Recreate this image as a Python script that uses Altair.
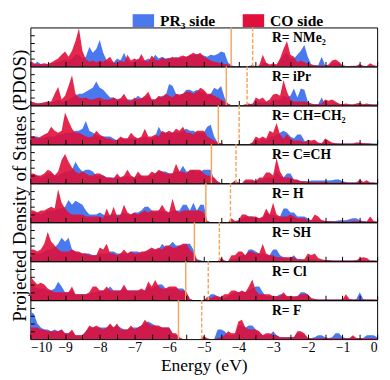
import altair as alt
import pandas as pd

energy = [round(-10 + 0.1 * i, 1) for i in range(101)]
x_ticks = [round(-10 + 0.5 * i, 1) for i in range(21)]
y_ticks = [2, 4, 6, 8]

labels = ["R= NMe₂", "R= iPr", "R= CH=CH₂", "R= C≡CH", "R= H", "R= SH", "R= Cl", "R= F"]
homo = [-4.21, -4.35, -4.58, -4.78, -4.94, -5.27, -5.52, -5.73]
lumo = [-3.59, -3.75, -3.98, -4.07, -4.23, -4.55, -4.87, -5.06]
series_names = ["PR₃ side", "CO side"]

co_nme2 = [1.5, 0.8, 0.5, 0.6, 0.8, 0.6, 1.0, 1.5, 2.0, 3.0,
           3.8, 2.5, 4.0, 6.5, 9.8, 4.0, 1.8, 1.2, 1.5, 1.0,
           1.5, 1.2, 1.8, 2.5, 1.0, 0.8, 1.5, 1.0, 3.0, 1.5,
           2.0, 1.5, 3.2, 1.5, 1.2, 2.8, 1.8, 1.5, 2.2, 1.8,
           2.0, 2.5, 2.0, 2.5, 2.8, 2.5, 3.0, 3.5, 3.0, 3.5,
           2.5, 2.0, 1.5, 1.2, 1.0, 0.8, 0.6, 0.5, 0.2, 0.0,
           0.0, 0.0, 0.0, 0.0, 0.3, 0.0, 0.3, 3.0, 1.0, 0.5,
           0.8, 0.5, 2.0, 4.5, 6.5, 3.0, 2.5, 1.0, 1.5, 1.0,
           0.8, 0.5, 0.3, 0.2, 0.3, 0.2, 0.5, 1.5, 1.8, 1.2,
           0.3, 0.1, 0.1, 0.2, 0.1, 0.6, 0.2, 0.1, 0.8, 0.3, 0.1]
pr_nme2 = [0.5, 0.5, 1.2, 0.6, 0.5, 0.5, 0.8, 1.0, 1.2, 1.5,
           1.8, 1.5, 2.0, 3.0, 3.0, 2.0, 2.5, 5.0, 3.5, 4.5,
           6.8, 3.5, 1.5, 1.2, 1.0, 2.0, 1.5, 3.5, 1.5, 1.0,
           1.2, 2.0, 1.5, 1.5, 2.0, 1.5, 3.0, 2.0, 2.5, 2.0,
           2.2, 2.0, 2.5, 2.0, 2.2, 2.5, 2.8, 3.0, 3.2, 3.0,
           2.8, 2.5, 3.0, 2.8, 3.2, 3.8, 3.5, 1.0, 0.3, 0.0,
           0.0, 0.0, 0.0, 0.0, 0.4, 0.0, 0.0, 1.0, 0.8, 0.2,
           0.5, 0.3, 1.5, 3.0, 3.5, 2.0, 2.0, 3.0, 4.0, 5.5,
           2.5, 0.5, 0.3, 0.3, 2.5, 0.3, 0.2, 0.8, 1.0, 0.8,
           0.2, 0.1, 0.1, 0.1, 0.2, 0.1, 0.1, 0.1, 0.2, 0.1, 0.1]

co_ipr = [1.0, 0.8, 0.5, 0.6, 0.8, 1.0, 1.0, 3.0, 4.7, 1.5,
          2.5, 5.0, 7.7, 3.0, 2.0, 1.8, 2.0, 1.5, 1.5, 1.8,
          2.0, 1.5, 1.5, 1.5, 2.0, 1.5, 1.8, 3.0, 1.5, 1.0,
          2.0, 1.5, 1.8, 2.5, 3.5, 1.5, 1.5, 2.5, 2.0, 3.0,
          2.5, 2.0, 3.0, 2.8, 3.0, 3.5, 3.5, 3.0, 3.5, 4.5,
          4.0, 3.0, 3.0, 2.5, 2.0, 1.5, 1.0, 0.5, 0.0, 0.0,
          0.0, 0.0, 0.3, 0.5, 0.2, 2.0, 1.5, 2.0, 1.0, 1.5,
          2.8, 3.0, 2.5, 6.5, 3.5, 1.5, 1.0, 1.0, 1.0, 1.0,
          0.8, 0.5, 0.3, 0.3, 0.5, 1.5, 1.2, 1.5, 1.0, 0.5,
          0.3, 0.5, 0.3, 0.2, 0.5, 0.7, 0.3, 0.5, 0.3, 0.2, 0.3]
pr_ipr = [0.5, 0.5, 0.5, 0.5, 0.5, 0.8, 0.8, 1.0, 1.5, 1.0,
          1.0, 1.5, 2.0, 2.5, 3.0, 3.0, 3.5, 4.0, 4.5, 6.1,
          4.5, 4.0, 3.0, 2.0, 2.0, 1.5, 1.5, 1.5, 1.5, 1.5,
          1.5, 2.5, 1.8, 2.0, 2.5, 1.5, 1.5, 2.0, 2.5, 2.5,
          5.5, 5.0, 3.0, 2.5, 3.0, 4.0, 4.0, 3.5, 4.0, 3.5,
          3.5, 2.5, 3.0, 4.5, 4.0, 5.0, 2.0, 0.3, 0.0, 0.0,
          0.0, 0.0, 0.0, 0.2, 0.5, 0.2, 1.0, 0.8, 0.8, 0.5,
          1.5, 1.5, 1.5, 2.5, 2.0, 2.5, 4.3, 2.0, 4.3, 4.0,
          1.0, 0.3, 0.3, 0.3, 2.0, 0.3, 0.3, 0.5, 0.5, 0.3,
          0.2, 0.2, 0.2, 0.2, 0.2, 0.3, 0.2, 0.2, 0.2, 0.2, 0.1]

co_vinyl = [2.0, 2.0, 1.5, 2.0, 2.5, 3.0, 4.5, 3.5, 3.0, 3.5,
            8.2, 6.0, 4.0, 3.0, 3.0, 2.5, 2.0, 1.8, 2.0, 3.5,
            2.5, 2.0, 1.5, 1.5, 1.0, 1.2, 2.0, 1.5, 1.5, 3.0,
            2.0, 1.5, 2.0, 4.0, 2.0, 2.0, 2.5, 2.0, 3.5, 3.0,
            3.5, 3.0, 4.0, 3.5, 4.5, 3.0, 3.0, 2.5, 3.5, 3.5,
            3.5, 2.0, 1.5, 1.0, 0.5, 0.3, 0.0, 0.0, 0.0, 0.0,
            0.0, 0.0, 0.0, 0.0, 0.5, 2.0, 1.5, 2.0, 1.5, 3.5,
            3.0, 5.5, 2.5, 1.5, 2.5, 1.5, 1.0, 1.0, 1.0, 0.5,
            1.2, 1.0, 1.2, 0.5, 0.3, 1.5, 1.0, 0.5, 0.3, 0.2,
            0.2, 0.2, 0.2, 0.2, 0.5, 0.5, 0.3, 0.3, 0.2, 0.1, 0.1]
pr_vinyl = [1.5, 2.0, 2.0, 1.5, 1.8, 2.0, 2.0, 2.0, 2.5, 2.5,
            3.0, 3.0, 3.0, 3.5, 3.5, 4.0, 6.0, 3.5, 3.0, 2.5,
            2.0, 2.0, 2.0, 2.0, 1.5, 1.0, 1.5, 1.5, 1.5, 1.5,
            1.5, 1.5, 1.5, 2.0, 1.5, 1.5, 2.0, 4.5, 3.0, 3.0,
            3.0, 3.0, 3.0, 3.0, 3.5, 4.0, 3.5, 3.5, 3.0, 3.0,
            3.0, 4.5, 5.0, 2.0, 0.5, 0.0, 0.0, 0.0, 0.0, 0.0,
            0.0, 0.0, 0.0, 0.0, 0.3, 1.0, 1.0, 1.5, 1.0, 2.0,
            2.0, 2.5, 3.0, 3.5, 3.0, 2.0, 1.5, 2.5, 2.5, 1.0,
            0.5, 0.5, 0.5, 0.3, 0.3, 0.5, 0.5, 0.3, 0.3, 0.2,
            0.2, 0.2, 0.2, 0.2, 0.3, 0.3, 0.3, 0.2, 0.2, 0.2, 0.2]

co_ethynyl = [2.5, 2.5, 2.0, 2.0, 2.5, 3.5, 3.0, 2.0, 3.0, 6.0,
              7.5, 5.5, 4.0, 3.0, 2.5, 3.0, 2.5, 2.0, 2.0, 2.5,
              2.5, 2.0, 1.5, 1.5, 1.2, 2.5, 1.5, 2.0, 3.5, 2.0,
              1.5, 3.0, 2.0, 2.0, 2.0, 3.0, 2.5, 3.5, 3.0, 2.5,
              2.5, 2.5, 5.0, 3.0, 3.0, 2.5, 3.5, 3.5, 3.5, 3.5,
              2.5, 2.0, 2.0, 1.5, 0.5, 0.0, 0.0, 0.0, 0.0, 0.7,
              0.2, 0.0, 1.0, 1.0, 1.0, 0.5, 1.5, 1.5, 2.8, 2.8,
              2.0, 6.5, 3.0, 1.5, 1.5, 1.5, 1.0, 1.0, 0.5, 0.5,
              0.3, 0.3, 0.3, 0.3, 0.3, 0.3, 0.2, 0.2, 0.2, 0.2,
              0.3, 0.2, 0.2, 0.2, 0.2, 1.0, 0.3, 0.8, 0.2, 0.2, 0.1]
pr_ethynyl = [2.0, 2.0, 2.0, 1.5, 2.0, 2.5, 2.5, 2.0, 2.0, 2.5,
              3.0, 3.0, 3.5, 5.5, 4.0, 3.0, 3.5, 3.5, 3.0, 2.0,
              2.0, 2.0, 1.5, 1.5, 1.5, 1.5, 1.5, 1.5, 2.0, 1.5,
              1.5, 2.0, 2.0, 1.5, 2.0, 2.0, 2.5, 3.0, 3.0, 3.0,
              2.5, 2.5, 3.0, 3.0, 4.5, 3.0, 3.0, 3.5, 3.0, 3.0,
              3.5, 3.5, 3.5, 1.0, 0.3, 0.0, 0.0, 0.0, 0.0, 0.3,
              0.0, 0.0, 0.5, 0.5, 0.5, 0.5, 1.0, 1.0, 1.5, 1.5,
              1.5, 3.0, 2.0, 1.5, 2.5, 2.5, 1.0, 0.8, 0.5, 0.5,
              0.5, 0.7, 0.7, 0.7, 0.7, 0.7, 0.7, 0.8, 1.0, 1.0,
              0.5, 0.3, 0.2, 0.2, 0.2, 0.3, 0.2, 0.2, 0.2, 0.2, 0.1]

co_h = [3.0, 3.0, 2.5, 3.0, 3.0, 3.5, 4.0, 3.5, 8.5, 5.0,
        3.5, 2.5, 2.0, 2.0, 2.0, 2.0, 1.5, 1.5, 1.5, 1.5,
        1.5, 1.0, 3.5, 1.5, 4.0, 1.5, 2.0, 4.5, 2.5, 2.0,
        2.5, 2.0, 2.5, 3.0, 2.5, 3.0, 3.0, 3.0, 4.5, 3.0,
        2.5, 6.0, 3.0, 2.5, 3.0, 3.0, 3.0, 3.0, 3.0, 3.0,
        2.5, 0.3, 0.0, 0.0, 0.0, 0.0, 0.0, 0.0, 1.0, 0.3,
        0.5, 2.0, 2.0, 1.5, 1.5, 1.5, 1.0, 1.5, 3.5, 2.0,
        5.0, 2.0, 1.5, 1.5, 1.5, 2.0, 1.5, 1.0, 1.0, 1.0,
        0.5, 0.5, 2.0, 1.5, 0.5, 0.3, 0.3, 0.2, 0.2, 0.2,
        0.2, 0.2, 0.2, 0.3, 0.3, 0.3, 0.2, 0.2, 1.5, 0.3, 0.1]
pr_h = [2.5, 2.5, 2.5, 2.0, 2.5, 3.0, 3.0, 3.0, 3.5, 3.5,
        4.0, 5.7, 4.5, 5.5, 5.0, 4.5, 3.0, 2.0, 2.0, 2.0,
        2.5, 2.0, 1.5, 2.0, 2.0, 2.0, 2.0, 2.5, 2.0, 2.0,
        2.5, 2.5, 3.0, 4.0, 4.0, 3.0, 2.5, 3.0, 3.0, 2.5,
        2.5, 3.0, 3.0, 3.0, 4.5, 4.5, 3.0, 5.0, 3.0, 4.5,
        4.5, 0.3, 0.0, 0.0, 0.0, 0.0, 0.0, 0.0, 0.3, 0.0,
        0.3, 1.0, 1.5, 1.5, 1.5, 1.0, 1.0, 1.0, 2.5, 2.0,
        2.0, 1.5, 1.5, 3.5, 3.5, 2.5, 2.5, 1.5, 1.5, 1.5,
        1.0, 0.5, 0.5, 0.5, 0.5, 0.3, 0.3, 0.3, 0.3, 0.5,
        0.5, 0.5, 0.8, 1.0, 1.0, 0.5, 0.3, 0.2, 0.3, 0.2, 0.1]

co_sh = [3.0, 3.0, 2.5, 3.0, 4.5, 7.5, 5.0, 4.0, 3.0, 2.5,
         2.5, 2.5, 3.0, 2.5, 2.5, 2.0, 2.0, 1.5, 1.5, 1.5,
         3.5, 3.0, 4.5, 2.0, 2.0, 1.5, 2.0, 3.0, 2.0, 2.5,
         2.0, 2.0, 2.5, 2.5, 3.0, 3.5, 3.0, 3.5, 3.0, 4.0,
         4.0, 3.5, 3.5, 4.0, 4.5, 4.5, 3.0, 2.0, 0.5, 0.0,
         0.0, 0.0, 0.0, 0.0, 0.0, 0.8, 0.2, 0.0, 1.5, 1.5,
         2.5, 2.5, 1.5, 2.5, 2.5, 2.0, 2.0, 4.5, 2.0, 1.5,
         1.5, 1.0, 1.0, 1.0, 1.0, 1.0, 1.0, 0.5, 0.5, 0.5,
         2.0, 1.5, 2.0, 0.8, 0.5, 0.3, 0.3, 0.2, 0.2, 0.2,
         0.2, 0.2, 0.2, 0.2, 0.2, 0.8, 1.0, 0.8, 0.2, 0.2, 0.1]
pr_sh = [2.0, 2.0, 2.0, 2.0, 2.5, 3.0, 3.0, 3.5, 4.5, 6.0,
         5.0, 6.0, 3.0, 2.5, 2.0, 2.0, 2.0, 2.0, 1.5, 1.5,
         2.0, 2.0, 2.0, 2.5, 2.5, 2.0, 2.0, 2.0, 2.0, 2.5,
         2.5, 2.5, 2.0, 2.5, 2.5, 3.0, 3.0, 3.0, 4.5, 3.5,
         4.0, 5.0, 4.0, 4.0, 4.0, 4.5, 4.5, 3.0, 0.5, 0.3,
         0.0, 0.0, 0.0, 0.0, 0.0, 0.3, 0.0, 0.0, 0.5, 0.5,
         1.0, 1.5, 1.5, 3.0, 3.0, 2.5, 2.0, 2.0, 1.5, 1.5,
         3.0, 3.0, 1.5, 1.0, 0.8, 0.8, 1.5, 0.5, 0.5, 0.3,
         0.5, 0.5, 0.5, 0.3, 0.3, 0.3, 0.3, 0.2, 0.2, 0.2,
         0.2, 0.2, 0.2, 0.2, 0.3, 0.3, 0.3, 0.2, 0.2, 0.2, 0.1]

co_cl = [6.0, 5.0, 4.0, 4.5, 4.0, 3.0, 2.5, 2.0, 2.0, 2.0,
         2.0, 2.0, 3.5, 1.5, 1.5, 1.5, 1.5, 2.0, 3.5, 3.5,
         2.5, 2.5, 3.5, 2.5, 2.5, 2.5, 2.5, 4.0, 2.5, 2.5,
         2.5, 2.5, 3.0, 2.5, 4.8, 3.5, 5.2, 3.5, 3.0, 3.0,
         3.5, 3.5, 3.5, 2.5, 2.5, 2.0, 0.3, 0.0, 0.0, 0.0,
         0.0, 0.8, 0.5, 1.0, 1.0, 0.8, 1.5, 1.5, 2.5, 2.5,
         2.0, 2.5, 2.0, 3.5, 5.3, 2.5, 1.5, 1.5, 1.5, 1.5,
         1.0, 1.0, 1.0, 2.0, 1.0, 1.0, 1.0, 1.0, 1.5, 1.5,
         1.5, 0.5, 0.3, 0.2, 0.2, 0.2, 0.2, 0.2, 0.2, 0.2,
         0.2, 1.5, 0.3, 0.2, 0.2, 0.2, 0.2, 0.2, 0.2, 0.2, 0.1]
pr_cl = [4.0, 3.5, 3.0, 3.0, 3.0, 2.5, 2.5, 3.0, 4.7, 3.5,
         2.0, 2.0, 2.5, 1.5, 1.5, 1.5, 1.5, 1.5, 2.0, 2.0,
         2.5, 2.5, 2.5, 3.5, 2.5, 2.5, 2.5, 3.0, 2.5, 2.5,
         2.5, 2.5, 2.5, 2.5, 3.5, 3.0, 3.5, 4.0, 4.0, 3.0,
         3.0, 3.0, 3.0, 3.0, 3.0, 2.0, 0.3, 0.0, 0.0, 0.0,
         0.0, 0.3, 1.5, 1.5, 1.0, 0.5, 0.5, 1.0, 1.5, 2.0,
         2.0, 2.0, 2.0, 2.5, 3.0, 3.5, 3.5, 2.0, 1.0, 1.0,
         1.0, 1.0, 1.5, 1.5, 1.0, 1.0, 0.8, 1.0, 2.0, 2.0,
         1.5, 0.5, 0.3, 0.2, 0.2, 0.2, 0.2, 0.2, 0.2, 0.2,
         0.2, 0.5, 0.3, 0.2, 0.3, 2.0, 0.3, 0.2, 0.2, 0.2, 0.1]

co_f = [3.0, 3.0, 3.0, 2.5, 2.5, 2.0, 2.0, 2.0, 2.0, 2.5,
        1.5, 1.5, 2.5, 1.0, 1.0, 1.0, 2.0, 3.5, 3.0, 3.5,
        3.0, 2.5, 3.0, 4.0, 3.0, 4.0, 2.5, 2.5, 2.5, 3.5,
        2.5, 3.0, 3.5, 5.0, 4.0, 3.5, 3.5, 3.5, 3.0, 3.0,
        3.0, 1.5, 1.5, 0.5, 0.0, 0.0, 0.0, 0.0, 0.0, 0.0,
        0.8, 0.2, 0.0, 0.0, 0.3, 0.5, 1.0, 2.0, 1.5, 1.5,
        4.5, 5.0, 3.0, 2.5, 2.5, 2.5, 2.0, 1.0, 1.5, 1.5,
        1.0, 1.0, 0.5, 0.5, 0.5, 0.5, 0.5, 2.0, 2.0, 1.5,
        0.3, 0.2, 0.2, 0.2, 0.3, 0.3, 0.2, 0.2, 0.2, 0.2,
        0.2, 0.2, 0.2, 1.0, 0.3, 0.2, 0.2, 0.2, 0.2, 0.2, 0.1]
pr_f = [7.0, 6.5, 4.0, 3.0, 2.5, 2.5, 2.0, 2.5, 2.0, 2.5,
        1.5, 1.5, 2.0, 1.0, 1.0, 1.0, 2.0, 3.0, 3.0, 3.0,
        3.0, 3.0, 3.0, 3.5, 3.0, 3.5, 3.0, 2.5, 2.5, 3.0,
        3.0, 3.0, 3.5, 4.0, 4.5, 4.0, 3.5, 3.0, 3.0, 3.0,
        3.0, 1.5, 1.0, 0.3, 0.0, 0.0, 0.0, 0.0, 0.0, 0.0,
        0.3, 0.0, 0.0, 0.0, 2.5, 2.5, 2.0, 1.0, 1.0, 1.0,
        3.5, 3.5, 3.0, 3.5, 3.5, 2.5, 1.5, 1.0, 1.0, 1.0,
        2.0, 1.0, 0.5, 0.5, 0.5, 0.5, 0.5, 1.5, 1.5, 1.0,
        0.3, 0.3, 0.5, 1.0, 1.0, 0.5, 0.3, 0.5, 1.5, 1.5,
        0.5, 0.3, 0.3, 0.5, 0.3, 0.3, 0.3, 1.0, 1.0, 1.0, 0.5]

pr_all = [pr_nme2, pr_ipr, pr_vinyl, pr_ethynyl, pr_h, pr_sh, pr_cl, pr_f]
co_all = [co_nme2, co_ipr, co_vinyl, co_ethynyl, co_h, co_sh, co_cl, co_f]

BLUE = "#4a78ee"
RED = "#e0103a"
ORANGE = "#f5a55c"
FONT = "Liberation Serif"
W, H = 356, 40

color_scale = alt.Scale(domain=series_names, range=[BLUE, RED])
legend = alt.Legend(
    title=None, orient="none", legendX=108, legendY=-15, direction="horizontal",
    symbolType="M-2,-1.2H2V1.2H-2Z", symbolSize=121, symbolStrokeWidth=0,
    symbolOpacity=1, labelFont=FONT, labelFontSize=16, labelFontWeight="bold",
    labelColor="black", columnPadding=28, labelOffset=9,
)

panels = []
for k in range(8):
    last = k == 7
    x_axis_kwargs = dict(
        values=x_ticks, tickSize=5, offset=-5, domain=False, grid=False,
        zindex=1, labels=last, minExtent=0, labelOverlap=False,
    )
    if last:
        x_axis_kwargs.update(
            labelExpr="datum.value % 1 === 0 ? format(datum.value, 'd') : ''",
            labelFontSize=14, labelPadding=2, titleFontSize=18, titlePadding=2,
        )
    x_title = "Energy (eV)" if last else None
    y_axis_kwargs = dict(
        values=y_ticks, tickSize=4, offset=-4, domain=False, grid=False,
        zindex=1, labels=False, minExtent=0,
    )
    y_title = None
    if k == 3:
        y_title = "Projected Density of States (PDOS)"
        y_axis_kwargs.update(titleY=H + 2, titleFontSize=19.5, titlePadding=1)

    xenc = alt.X("E:Q", scale=alt.Scale(domain=[-10, 0], nice=False, zero=False),
                 axis=alt.Axis(**x_axis_kwargs), title=x_title)
    yenc = alt.Y("v:Q", scale=alt.Scale(domain=[0, 10], nice=False),
                 axis=alt.Axis(**y_axis_kwargs), title=y_title)
    cenc = alt.Color("s:N", scale=color_scale, legend=legend)

    df_pr = pd.DataFrame({"E": energy, "v": pr_all[k], "s": series_names[0]})
    df_co = pd.DataFrame({"E": energy, "v": co_all[k], "s": series_names[1]})

    blue = alt.Chart(df_pr).mark_area(opacity=1, clip=True).encode(x=xenc, y=yenc, color=cenc)
    red = alt.Chart(df_co).mark_area(opacity=0.9, clip=True).encode(x=xenc, y=yenc, color=cenc)
    r1 = alt.Chart(pd.DataFrame({"E": [homo[k]]})).mark_rule(
        color=ORANGE, strokeWidth=1.5).encode(x=xenc)
    r2 = alt.Chart(pd.DataFrame({"E": [lumo[k]]})).mark_rule(
        color=ORANGE, strokeWidth=1.5, strokeDash=[4, 2]).encode(x=xenc)
    txt = alt.Chart(pd.DataFrame({"t": [labels[k]]})).mark_text(
        align="left", baseline="middle", font=FONT, fontSize=14,
        fontWeight="bold", color="black",
    ).encode(x=alt.value(248), y=alt.value(11), text="t:N")

    panels.append(alt.layer(blue, red, r1, r2, txt).properties(width=W, height=H))

chart = alt.vconcat(*panels, spacing=0, bounds="flush").resolve_scale(color="shared").properties(
    padding={"left": 0, "top": 0, "right": 4, "bottom": 0}
).configure_view(stroke="black", strokeWidth=1).configure_axis(
    tickColor="black", tickWidth=1, labelFont=FONT, titleFont=FONT,
    labelColor="black", titleColor="black", titleFontWeight="normal",
)

chart.save("out.html", embed_options={"renderer": "svg", "actions": False})
